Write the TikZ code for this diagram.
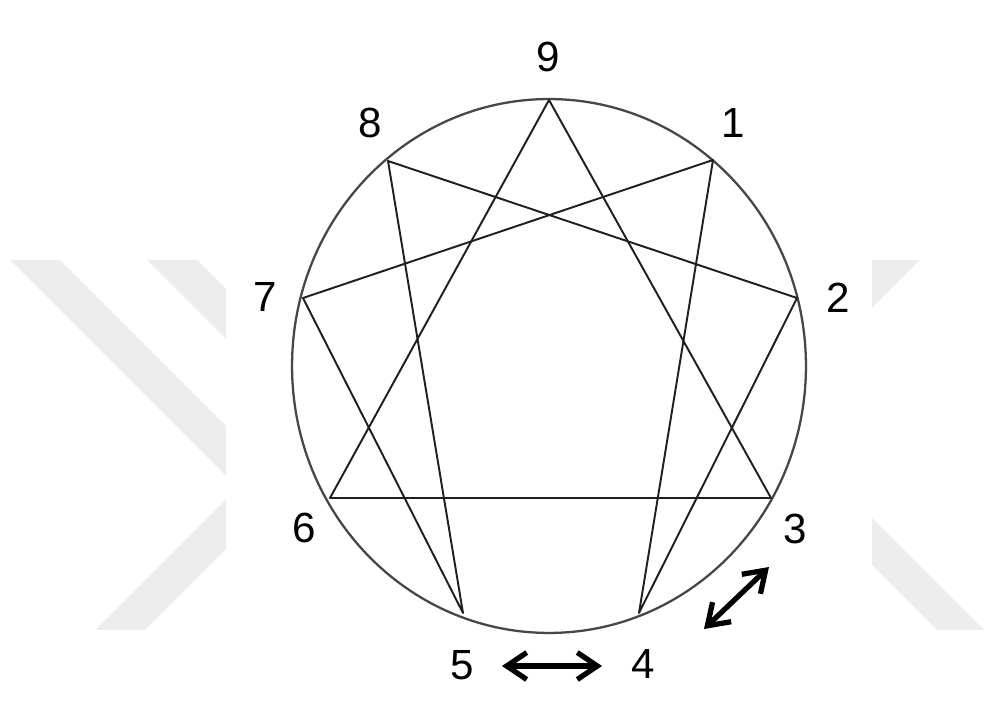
\documentclass[tikz,border=0pt]{standalone}
\usepackage{fontspec}
\setmainfont{Liberation Sans}
\usetikzlibrary{arrows.meta}

\begin{document}
\begin{tikzpicture}[
    x=0.02cm, y=-0.02cm,     % 按像素坐标作图
    >={Straight Barb[length=4mm, width=5.4mm]},
    num/.style={font=\fontsize{24}{28}\selectfont, text=black},
    side/.style={draw=black!72, line width=1.3pt},
    chord/.style={draw=black!88, line width=1.1pt, line join=round},
    twoway/.style={<->, line width=3pt, black}
]
    \useasboundingbox (0,0) rectangle (984,722);

    % --- 0. 背景水印 (Watermark) ---
    \fill[black!7] (10,260) -- (60,260) -- (240,440) -- (240,490) -- cycle;
    \fill[black!7] (147,260) -- (197,260) -- (240,303) -- (240,353) -- cycle;
    \fill[black!7] (95,630) -- (145,630) -- (240,535) -- (240,485) -- cycle;
    \fill[black!7] (860,260) -- (920,260) -- (860,320) -- cycle;
    \fill[black!7] (860,506) -- (984,630) -- (937,630) -- (860,553) -- cycle;
    \fill[white] (226,0) rectangle (872,722);

    % --- 1. 定义九个点 (Points) ---
    \coordinate (p9) at (549, 100);
    \coordinate (p1) at (713, 160);
    \coordinate (p2) at (797, 298);
    \coordinate (p3) at (771, 498);
    \coordinate (p4) at (639, 613);
    \coordinate (p5) at (463, 613);
    \coordinate (p6) at (330, 498);
    \coordinate (p7) at (303, 298);
    \coordinate (p8) at (388, 161);

    % 数字标签
    \node[num] (n9) at (548, 57) {9};
    \node[num] (n1) at (733, 123) {1};
    \node[num] (n2) at (838, 298) {2};
    \node[num] (n3) at (795, 529) {3};
    \node[num] (n4) at (643, 664) {4};
    \node[num] (n5) at (462, 665) {5};
    \node[num] (n6) at (304, 528) {6};
    \node[num] (n7) at (265, 297) {7};
    \node[num] (n8) at (370, 123) {8};

    % --- 2. 外圆 (Outer ellipse) ---
    \draw[side] (549, 366) ellipse [x radius=5.14cm, y radius=5.34cm];

    % --- 3. 三角形与六边形连线 (Inner lines) ---
    \draw[chord] (p9) -- (p3) -- (p6) -- cycle;
    \draw[chord] (p1) -- (p4) -- (p2) -- (p8) -- (p5) -- (p7) -- cycle;

    % --- 4. 双向箭头 (Arrows) ---
    \coordinate (a5) at (502, 666);
    \coordinate (a4) at (602, 666);
    \coordinate (b4) at (704, 629);
    \coordinate (b3) at (769, 567);
    \draw[twoway] (a5) -- (a4);
    \draw[twoway] (b4) -- (b3);

\end{tikzpicture}
\end{document}
